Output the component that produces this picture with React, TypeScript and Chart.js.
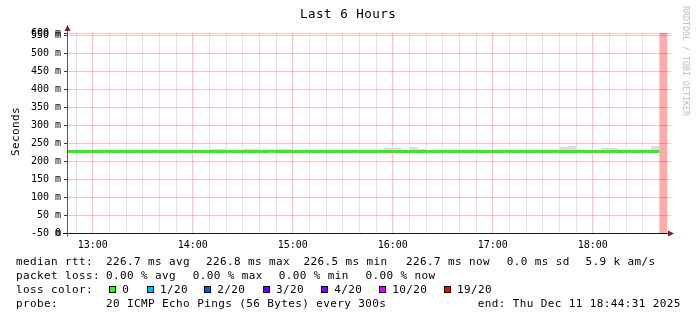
import React, { useEffect, useRef } from 'react';
import { Chart, registerables } from 'chart.js';

Chart.register(...registerables);

// ---------- data ----------
const viewStart = '12:44:31';
const viewEnd = '18:44:31';
const stepMinutes = 5;

// 5-minute RRD steps (start time of each step)
const stepTimes = [
  '12:40', '12:45', '12:50', '12:55',
  '13:00', '13:05', '13:10', '13:15', '13:20', '13:25', '13:30', '13:35', '13:40', '13:45', '13:50', '13:55',
  '14:00', '14:05', '14:10', '14:15', '14:20', '14:25', '14:30', '14:35', '14:40', '14:45', '14:50', '14:55',
  '15:00', '15:05', '15:10', '15:15', '15:20', '15:25', '15:30', '15:35', '15:40', '15:45', '15:50', '15:55',
  '16:00', '16:05', '16:10', '16:15', '16:20', '16:25', '16:30', '16:35', '16:40', '16:45', '16:50', '16:55',
  '17:00', '17:05', '17:10', '17:15', '17:20', '17:25', '17:30', '17:35', '17:40', '17:45', '17:50', '17:55',
  '18:00', '18:05', '18:10', '18:15', '18:20', '18:25', '18:30', '18:35', '18:40',
];

// median rtt (ms) per step
const medianRtt = [
  226.7, 226.7, 226.7, 226.7, 226.7, 226.7, 226.7, 226.7, 226.7, 226.7,
  226.7, 226.7, 226.7, 226.7, 226.7, 226.7, 226.7, 226.7, 226.7, 226.7,
  226.7, 226.7, 226.7, 226.7, 226.7, 226.8, 226.7, 226.7, 226.7, 226.7,
  226.7, 226.7, 226.7, 226.7, 226.7, 226.7, 226.7, 226.7, 226.7, 226.7,
  226.7, 226.7, 226.7, 226.7, 226.7, 226.7, 226.7, 226.5, 226.7, 226.7,
  226.7, 226.7, 226.7, 226.7, 226.7, 226.7, 226.7, 226.7, 226.7, 226.7,
  226.7, 226.7, 226.7, 226.7, 226.7, 226.7, 226.7, 226.7, 226.7, 226.7,
  226.7, 226.7, null,
];

// smoke band (ms): lowest and highest ping per step
const smokeLow = [
  226.3, 226.3, 226.3, 226.3, 226.3, 226.3, 226.3, 226.3, 226.3, 226.3,
  226.3, 226.3, 226.3, 226.3, 226.3, 226.3, 226.3, 226.3, 226.3, 226.3,
  226.3, 226.3, 226.3, 226.3, 226.3, 226.3, 226.3, 226.3, 226.3, 226.3,
  226.3, 226.3, 226.3, 226.3, 226.3, 226.3, 226.3, 226.3, 226.3, 226.3,
  226.3, 226.3, 226.3, 226.3, 226.3, 226.3, 226.3, 226.3, 226.3, 226.3,
  226.3, 226.3, 226.3, 226.3, 226.3, 226.3, 226.3, 226.3, 226.3, 226.3,
  226.3, 226.3, 226.3, 226.3, 226.3, 226.3, 226.3, 226.3, 226.3, 226.3,
  226.3, 226.3, null,
];
const smokeHigh = [
  227.2, 227.2, 227.2, 227.2, 227.2, 227.2, 227.2, 227.2, 227.2, 227.2,
  227.2, 227.2, 227.2, 227.2, 227.2, 227.2, 227.2, 227.2, 233.3, 233.3,
  227.2, 227.2, 234.2, 234.2, 227.2, 227.2, 233.3, 233.3, 227.2, 227.2,
  227.2, 227.2, 227.2, 227.2, 227.2, 227.2, 227.2, 227.2, 227.2, 236.1,
  236.1, 227.2, 238.9, 233.3, 227.2, 227.2, 227.2, 227.2, 227.2, 227.2,
  227.2, 227.2, 227.2, 227.2, 227.2, 227.2, 227.2, 227.2, 227.2, 227.2,
  239.7, 241.7, 232.5, 227.2, 227.2, 236.1, 236.1, 227.2, 227.2, 227.2,
  227.2, 241.7, null,
];

// steps with no data (drawn as full-height band)
const unknownSteps = ['18:40'];

// y axis (ms)
const yAxisTop = 555.6;
const yTickValues = [0, 0, 50, 100, 150, 200, 250, 300, 350, 400, 450, 500, 550, 555.6];
const yTickLabels = ['-50 m', '0', '50 m', '100 m', '150 m', '200 m', '250 m', '300 m', '350 m', '400 m', '450 m', '500 m', '550 m', '600 m'];

// x grid every 10 minutes, labels on the hour
const xTickTimes = [
  '12:50', '13:00', '13:10', '13:20', '13:30', '13:40', '13:50',
  '14:00', '14:10', '14:20', '14:30', '14:40', '14:50',
  '15:00', '15:10', '15:20', '15:30', '15:40', '15:50',
  '16:00', '16:10', '16:20', '16:30', '16:40', '16:50',
  '17:00', '17:10', '17:20', '17:30', '17:40', '17:50',
  '18:00', '18:10', '18:20', '18:30', '18:40',
];

const titleText = 'Last 6 Hours';
const yAxisTitle = 'Seconds';
const watermark = 'RRDTOOL / TOBI OETIKER';

const statsRtt = [
  ['median rtt:', 16.7], ['226.7 ms avg', 106.7], ['226.8 ms max', 206.7], ['226.5 ms min', 304],
  ['226.7 ms now', 406.7], ['0.0 ms sd', 507.3], ['5.9 k am/s', 586],
];
const statsLoss = [
  ['packet loss:', 16.7], ['0.00 % avg', 106.7], ['0.00 % max', 193.3], ['0.00 % min', 279.3], ['0.00 % now', 366],
];
const lossLabels = ['0', '1/20', '2/20', '3/20', '4/20', '10/20', '19/20'];
const lossColors = ['#26ff00', '#00b8ff', '#0059ff', '#5e00ff', '#7e00ff', '#dd00ff', '#ff0000'];
const lossBoxX = [109, 146.7, 204, 262.7, 321, 379, 443.7];
const probeText = '20 ICMP Echo Pings (56 Bytes) every 300s';
const endText = 'end: Thu Dec 11 18:44:31 2025';

// ---------- styling ----------
const MONO = "'DejaVu Sans Mono', monospace";
const MGRID = 'rgba(230, 70, 70, 0.32)';
const GRID = 'rgba(140, 140, 140, 0.24)';
const ARROW = '#801f1f';
const LINE_GREEN = '#2ef01e';

const toMin = (s: string) => {
  const p = s.split(':').map(Number);
  return p[0] * 60 + p[1] + (p[2] || 0) / 60;
};

function stepPoints(values: (number | null)[]) {
  const pts: { x: number; y: number | null }[] = [];
  values.forEach((v, i) => {
    const t = toMin(stepTimes[i]);
    if (v == null) {
      pts.push({ x: t, y: null });
    } else {
      pts.push({ x: t, y: v });
      pts.push({ x: t + stepMinutes, y: v });
    }
  });
  return pts;
}

const axisDecor = {
  id: 'axisDecor',
  afterDraw(chart: any) {
    const { ctx, chartArea: a, scales } = chart;
    const ys = scales.y;
    ctx.save();
    ctx.lineWidth = 1;
    ctx.strokeStyle = MGRID;
    ys.ticks.forEach((t: any) => {
      const py = Math.round(ys.getPixelForValue(t.value) - 0.5) + 0.5;
      ctx.beginPath();
      ctx.moveTo(a.right, py);
      ctx.lineTo(a.right + 4, py);
      ctx.stroke();
    });
    const bx = Math.round(a.left - 0.5) + 0.5;
    const by = Math.round(a.bottom - 0.5) + 0.5;
    ctx.strokeStyle = '#5a5a5a';
    ctx.beginPath();
    ctx.moveTo(bx, by + 3);
    ctx.lineTo(bx, a.top - 4);
    ctx.stroke();
    ctx.strokeStyle = '#1a1a1a';
    ctx.beginPath();
    ctx.moveTo(a.left - 4, by);
    ctx.lineTo(a.right + 5, by);
    ctx.stroke();
    ctx.fillStyle = ARROW;
    ctx.beginPath();
    ctx.moveTo(a.right + 1, by - 3);
    ctx.lineTo(a.right + 7, by);
    ctx.lineTo(a.right + 1, by + 3);
    ctx.closePath();
    ctx.fill();
    ctx.beginPath();
    ctx.moveTo(bx - 3, a.top - 2);
    ctx.lineTo(bx, a.top - 8);
    ctx.lineTo(bx + 3, a.top - 2);
    ctx.closePath();
    ctx.fill();
    ctx.restore();
  },
};

function Txt(props: { x: number; base: number; size: number; spacing?: number; color?: string; children: any }) {
  const { x, base, size, spacing = 0, color = '#000', children } = props;
  return (
    <span
      style={{
        position: 'absolute',
        left: x,
        top: base - 0.846 * size,
        fontFamily: MONO,
        fontSize: size,
        lineHeight: size + 'px',
        letterSpacing: spacing,
        whiteSpace: 'pre',
        color,
      }}
    >
      {children}
    </span>
  );
}

export default function App() {
  const ref = useRef<HTMLCanvasElement | null>(null);

  useEffect(() => {
    if (!ref.current) return;
    const unknownPts: { x: number; y: number | null }[] = [];
    unknownSteps.forEach((t) => {
      unknownPts.push({ x: toMin(t), y: yAxisTop });
      unknownPts.push({ x: toMin(t) + stepMinutes, y: yAxisTop });
    });

    const chart = new Chart(ref.current, {
      type: 'line',
      data: {
        datasets: [
          {
            label: 'median rtt',
            data: stepPoints(medianRtt) as any,
            borderColor: LINE_GREEN,
            borderWidth: 3,
            pointRadius: 0,
            fill: false,
            spanGaps: false,
          },
          {
            label: 'smoke high',
            data: stepPoints(smokeHigh) as any,
            borderWidth: 0,
            borderColor: 'rgba(0,0,0,0)',
            backgroundColor: '#dcdcdc',
            pointRadius: 0,
            fill: 2,
          },
          {
            label: 'smoke low',
            data: stepPoints(smokeLow) as any,
            borderWidth: 0,
            borderColor: 'rgba(0,0,0,0)',
            pointRadius: 0,
            fill: false,
          },
          {
            label: 'unknown',
            data: unknownPts as any,
            borderWidth: 1,
            borderColor: 'rgba(150,120,255,0.5)',
            backgroundColor: 'rgba(255,0,0,0.33)',
            pointRadius: 0,
            fill: 'start',
          },
        ],
      },
      options: {
        animation: false,
        responsive: false,
        devicePixelRatio: 1,
        events: [],
        layout: { padding: { left: 0, right: 30, top: 33, bottom: 70 } },
        plugins: {
          legend: { display: false },
          tooltip: { enabled: false },
          title: { display: false },
        },
        elements: { line: { tension: 0 }, point: { radius: 0 } },
        scales: {
          x: {
            type: 'linear',
            min: toMin(viewStart),
            max: toMin(viewEnd),
            afterFit: (s: any) => {
              s.height = 18;
            },
            afterBuildTicks: (s: any) => {
              s.ticks = xTickTimes.map((t) => ({ value: toMin(t) }));
            },
            ticks: {
              autoSkip: false,
              maxRotation: 0,
              minRotation: 0,
              padding: 6,
              color: '#000',
              font: { family: MONO, size: 10 },
              callback: (_v: any, i: number) => (xTickTimes[i].endsWith(':00') ? xTickTimes[i] : ''),
            },
            grid: {
              drawTicks: false,
              lineWidth: 1,
              color: (c: any) => (c.tick && Math.round(c.tick.value) % 60 === 0 ? MGRID : GRID),
            },
            border: { display: false },
          },
          y: {
            type: 'linear',
            min: 0,
            max: yAxisTop,
            afterFit: (s: any) => {
              s.width = 67;
            },
            afterBuildTicks: (s: any) => {
              s.ticks = yTickValues.map((v) => ({ value: v }));
            },
            ticks: {
              autoSkip: false,
              padding: 3,
              color: '#000',
              font: { family: MONO, size: 10 },
              callback: (_v: any, i: number) => yTickLabels[i],
            },
            grid: {
              drawTicks: true,
              tickLength: 3,
              tickColor: '#333',
              lineWidth: 1,
              color: MGRID,
            },
            border: { display: false },
          },
        },
      },
      plugins: [axisDecor],
    } as any);
    return () => chart.destroy();
  }, []);

  return (
    <div style={{ position: 'fixed', left: 0, top: 0, width: 697, height: 321, background: '#fff', overflow: 'hidden' }}>
      <canvas ref={ref} width={697} height={321} style={{ position: 'absolute', left: 0, top: 0 }} />
      <Txt x={300} base={19} size={12.5} spacing={0.5}>{titleText}</Txt>
      <span
        style={{
          position: 'absolute',
          left: 10,
          top: 156,
          transform: 'rotate(-90deg)',
          transformOrigin: 'left top',
          fontFamily: MONO,
          fontSize: 11,
          lineHeight: '11px',
          letterSpacing: 0.38,
          whiteSpace: 'pre',
          color: '#000',
        }}
      >
        {yAxisTitle}
      </span>
      <span
        style={{
          position: 'absolute',
          left: 690,
          top: 5.5,
          transform: 'rotate(90deg)',
          transformOrigin: 'left top',
          fontFamily: MONO,
          fontSize: 8.3,
          lineHeight: '8.3px',
          whiteSpace: 'pre',
          color: '#bdbdbd',
        }}
      >
        {watermark}
      </span>
      {statsRtt.map(([t, x]) => (
        <Txt key={'r' + t} x={(x as number) - 0.6} base={265} size={11} spacing={0.38}>{t}</Txt>
      ))}
      {statsLoss.map(([t, x]) => (
        <Txt key={'l' + t} x={(x as number) - 0.6} base={279} size={11} spacing={0.38}>{t}</Txt>
      ))}
      <Txt x={16.1} base={293} size={11} spacing={0.38}>loss color:</Txt>
      {lossLabels.map((l, i) => (
        <React.Fragment key={'lc' + l}>
          <div
            style={{
              position: 'absolute',
              left: lossBoxX[i],
              top: 286,
              width: 5,
              height: 5,
              border: '1px solid #000',
              background: lossColors[i],
            }}
          />
          <Txt x={lossBoxX[i] + 13.3} base={293} size={11} spacing={0.38}>{l}</Txt>
        </React.Fragment>
      ))}
      <Txt x={16.1} base={307} size={11} spacing={0.38}>probe:</Txt>
      <Txt x={106.1} base={307} size={11} spacing={0.38}>{probeText}</Txt>
      <Txt x={477.7} base={307} size={11} spacing={0.38}>{endText}</Txt>
    </div>
  );
}
